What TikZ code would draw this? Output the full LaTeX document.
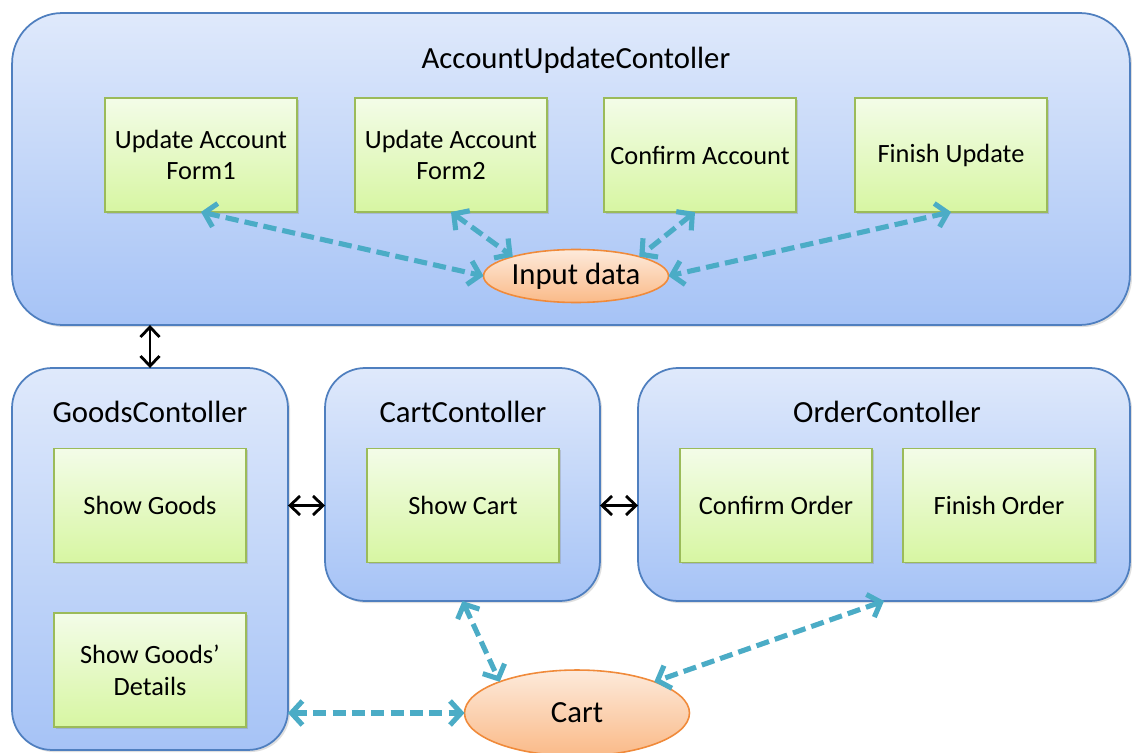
\documentclass[tikz,border=0pt]{standalone}
\usepackage{fontspec}
\setmainfont{Carlito}
\usetikzlibrary{arrows.meta,shapes.geometric,shadows}
\definecolor{boxtop}{HTML}{DFE9FB}
\definecolor{boxbot}{HTML}{A6C3F6}
\definecolor{boxline}{HTML}{4F7FBF}
\definecolor{grtop}{HTML}{F3FCE8}
\definecolor{grbot}{HTML}{D7F6A2}
\definecolor{grline}{HTML}{9BBB59}
\definecolor{ortop}{HTML}{FDEADB}
\definecolor{orbot}{HTML}{FABA88}
\definecolor{orline}{HTML}{F08A3A}
\definecolor{flow}{HTML}{4BACC6}
\tikzset{
  ctrl/.style={draw=boxline, line width=1pt, top color=boxtop, bottom color=boxbot,
    rounded corners=0.8cm, inner sep=0pt, outer sep=0pt,
    drop shadow={shadow xshift=1.2pt, shadow yshift=-1.2pt, opacity=0.25}},
  ttl/.style={font=\fontsize{17.5}{20}\selectfont, inner sep=0pt},
  pagebox/.style={draw=grline, line width=0.9pt, top color=grtop, bottom color=grbot,
    minimum width=3.84cm, minimum height=2.28cm, inner sep=0pt, outer sep=0pt,
    align=center, font=\fontsize{15}{18}\selectfont,
    drop shadow={shadow xshift=1pt, shadow yshift=-1pt, opacity=0.3}},
  datael/.style={ellipse, draw=orline, line width=0.9pt, top color=ortop, bottom color=orbot,
    inner sep=0pt, outer sep=0pt, font=\fontsize{17.5}{20}\selectfont},
  flowarrow/.style={draw=flow, line width=2.9pt, dash pattern=on 7.5pt off 3.5pt,
    {Straight Barb[length=2.2mm,width=4.8mm]}-{Straight Barb[length=2.2mm,width=4.8mm]}},
  linkarrow/.style={draw=black, line width=1.6pt,
    {Straight Barb[length=2mm,width=3.8mm]}-{Straight Barb[length=2mm,width=3.8mm]}}
}
\begin{document}
\begin{tikzpicture}[x=0.02cm,y=-0.02cm]
\useasboundingbox (0,0) rectangle (1132,753);
\fill[white] (0,0) rectangle (1132,753);

% top controller
\node[ctrl, rounded corners=1cm, minimum width=22.36cm, minimum height=6.24cm] (acc) at (571,169) {};
\node[ttl] (acct) at (576,60) {AccountUpdateContoller};
\node[pagebox] (f1) at (201,155) {Update Account\\Form1};
\node[pagebox] (f2) at (451,155) {Update Account\\Form2};
\node[pagebox] (cf) at (700,155) {Confirm Account};
\node[pagebox] (fu) at (951,155) {Finish Update};
\node[datael, minimum width=3.7cm, minimum height=1.06cm] (in) at (576,276) {Input data};

\draw[flowarrow] (f1.south) -- (in.west);
\draw[flowarrow] (f2.south) -- (in.163);
\draw[flowarrow] ([xshift=-0.1cm]cf.south) -- (in.17);
\draw[flowarrow] (fu.south) -- (in.east);

% lower controllers
\node[ctrl, minimum width=5.52cm, minimum height=7.64cm] (goods) at (150,559) {};
\node[ttl] (goodst) at (150,412) {GoodsContoller};
\node[pagebox] (sg) at (150,505.5) {Show Goods};
\node[pagebox] (sgd) at (150,670) {Show Goods'\\Details};

\node[ctrl, minimum width=5.5cm, minimum height=4.66cm] (cartc) at (462.5,484.5) {};
\node[ttl] (cartt) at (463,412) {CartContoller};
\node[pagebox] (sc) at (463,505.5) {Show Cart};

\node[ctrl, minimum width=9.84cm, minimum height=4.66cm] (order) at (884,484.5) {};
\node[ttl] (ordert) at (887,412) {OrderContoller};
\node[pagebox] (co) at (776,505.5) {Confirm Order};
\node[pagebox] (fo) at (999,505.5) {Finish Order};

\node[datael, minimum width=4.5cm, minimum height=1.72cm] (cart) at (577,713) {Cart};

% black links
\draw[linkarrow] (acc.south -| goods.north) -- (goods.north);
\draw[linkarrow] (sc.west -| goods.east) -- (sc.west -| cartc.west);
\draw[linkarrow] (sc.east -| cartc.east) -- (sc.east -| order.west);

% flows to cart
\draw[flowarrow] (cart.west -| goods.east) -- (cart.west);
\draw[flowarrow] (cartc.south) -- (cart.158);
\draw[flowarrow] (order.south) -- (cart.22);
\end{tikzpicture}
\end{document}
